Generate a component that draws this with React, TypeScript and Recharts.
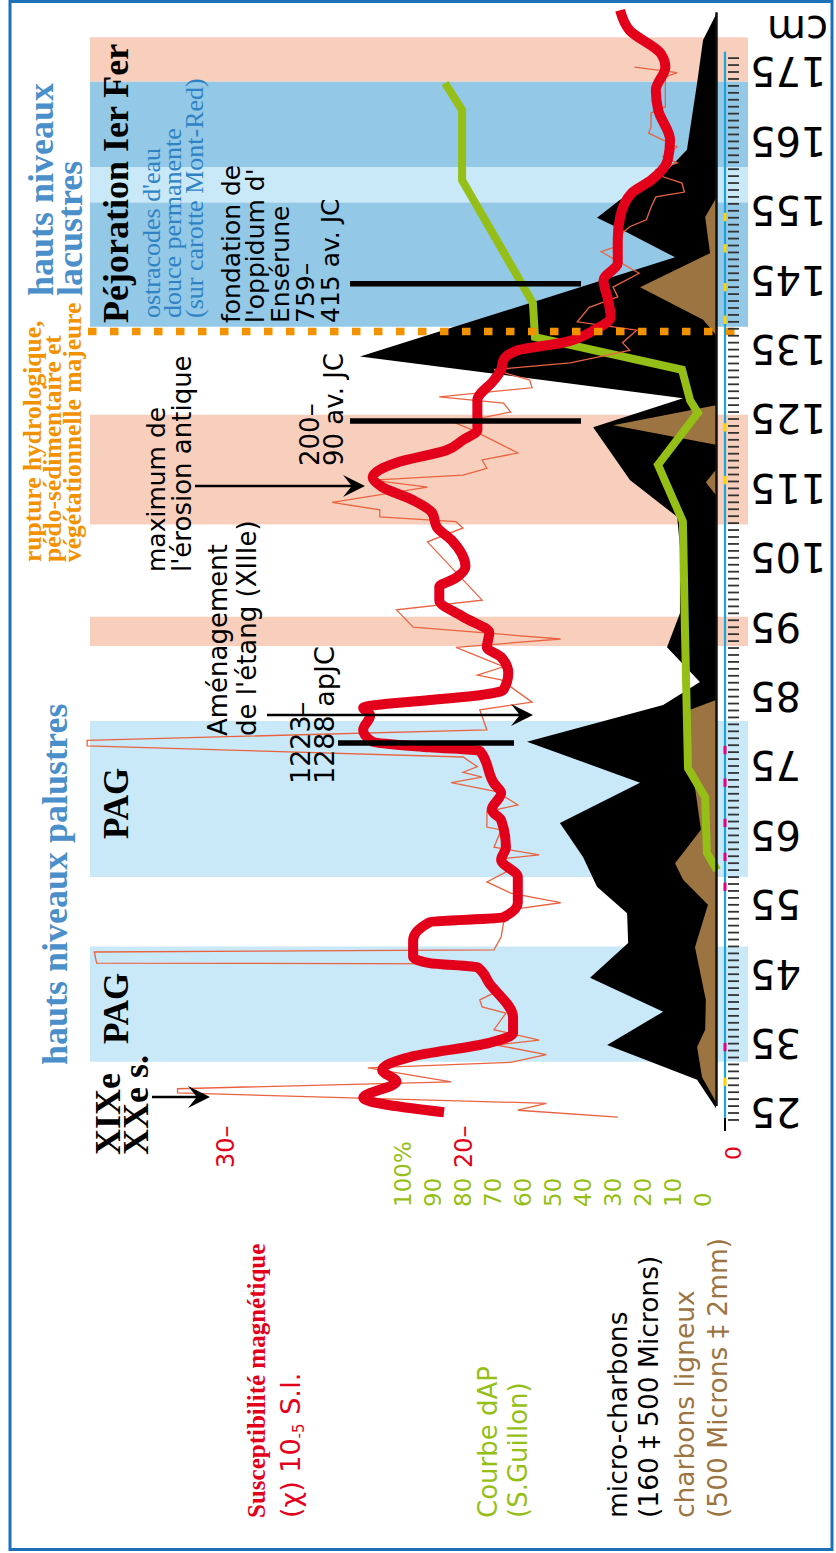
import React from 'react'
import {
  ComposedChart,
  Line,
  Area,
  XAxis,
  YAxis,
  ReferenceArea,
  ReferenceLine,
} from 'recharts'

const W = 836
const H = 1553

const SERIF = '"Liberation Serif", "Times New Roman", serif'
const SANS = '"DejaVu Sans", Verdana, sans-serif'

const RED = '#e3001b'
const RED_RAW = '#ea6340'
const GREEN = '#95bf16'
const BROWN = '#9c7441'
const TITLE_BLUE = '#4a8fca'
const OSTRA_BLUE = '#2f83c5'
const ORANGE = '#f39200'
const CYAN = '#1ba3dc'
const FRAME = '#1d71b8'

// susceptibilité magnétique, courbe lissée (profondeur cm, 10-5 S.I.)
const redSmooth = [
  { d: 183.9, v: 13.4 }, { d: 181.0, v: 13.0 }, { d: 177.7, v: 11.7 }, { d: 175.7, v: 11.5 },
  { d: 172.4, v: 11.9 }, { d: 169.5, v: 11.8 }, { d: 165.2, v: 11.3 }, { d: 162.3, v: 11.4 },
  { d: 159.4, v: 12.1 }, { d: 157.6, v: 12.9 }, { d: 154.1, v: 13.4 }, { d: 150.8, v: 13.5 },
  { d: 147.5, v: 13.5 }, { d: 145.0, v: 14.1 }, { d: 142.1, v: 13.9 }, { d: 139.7, v: 13.8 },
  { d: 137.8, v: 14.5 }, { d: 136.0, v: 15.8 }, { d: 134.9, v: 17.7 }, { d: 133.5, v: 18.3 },
  { d: 132.1, v: 18.4 }, { d: 130.6, v: 18.7 }, { d: 127.7, v: 19.4 }, { d: 125.3, v: 19.4 },
  { d: 123.4, v: 19.4 }, { d: 122.0, v: 20.0 }, { d: 120.5, v: 20.7 }, { d: 118.7, v: 22.8 },
  { d: 116.6, v: 23.8 }, { d: 115.2, v: 23.4 }, { d: 113.3, v: 22.1 }, { d: 111.5, v: 21.3 },
  { d: 109.4, v: 21.1 }, { d: 107.6, v: 20.5 }, { d: 103.7, v: 19.9 }, { d: 102.1, v: 20.3 },
  { d: 100.8, v: 21.0 }, { d: 98.9, v: 21.0 }, { d: 96.5, v: 20.0 }, { d: 94.2, v: 18.9 },
  { d: 92.1, v: 19.0 }, { d: 90.7, v: 18.4 }, { d: 88.4, v: 18.1 }, { d: 86.0, v: 18.3 },
  { d: 85.2, v: 19.3 }, { d: 84.5, v: 21.4 }, { d: 83.4, v: 24.2 }, { d: 82.3, v: 23.9 },
  { d: 80.2, v: 24.2 }, { d: 78.5, v: 23.8 }, { d: 77.7, v: 21.4 }, { d: 77.2, v: 19.3 },
  { d: 72.5, v: 18.7 }, { d: 71.1, v: 18.4 }, { d: 68.7, v: 18.8 }, { d: 67.2, v: 18.4 },
  { d: 63.3, v: 18.2 }, { d: 61.5, v: 18.4 }, { d: 59.0, v: 17.7 }, { d: 55.3, v: 17.7 },
  { d: 53.2, v: 18.3 }, { d: 52.5, v: 21.4 }, { d: 49.9, v: 22.1 }, { d: 47.5, v: 22.1 },
  { d: 46.6, v: 21.4 }, { d: 46.0, v: 19.4 }, { d: 43.7, v: 18.9 }, { d: 38.8, v: 17.9 },
  { d: 36.5, v: 17.9 }, { d: 35.1, v: 18.9 }, { d: 33.1, v: 22.2 }, { d: 31.2, v: 23.4 },
  { d: 29.5, v: 22.8 }, { d: 27.2, v: 24.2 }, { d: 25.1, v: 20.8 },
]

// susceptibilité magnétique, mesures brutes
const redRaw = [
  { d: 175.7, v: 12.8 }, { d: 174.9, v: 11.0 }, { d: 174.3, v: 11.5 }, { d: 170.0, v: 11.5 },
  { d: 169.1, v: 12.1 }, { d: 167.1, v: 12.1 }, { d: 166.2, v: 12.2 }, { d: 164.2, v: 11.0 },
  { d: 162.8, v: 11.6 }, { d: 161.9, v: 11.0 }, { d: 160.9, v: 11.9 }, { d: 159.9, v: 11.6 },
  { d: 159.0, v: 10.8 }, { d: 157.7, v: 10.7 }, { d: 157.0, v: 11.9 }, { d: 155.5, v: 12.1 },
  { d: 153.7, v: 12.3 }, { d: 152.7, v: 13.0 }, { d: 151.8, v: 13.3 }, { d: 149.8, v: 13.6 },
  { d: 149.1, v: 14.2 }, { d: 146.0, v: 12.6 }, { d: 144.0, v: 13.7 }, { d: 142.6, v: 13.5 },
  { d: 141.1, v: 14.7 }, { d: 139.0, v: 15.2 }, { d: 137.8, v: 12.7 }, { d: 136.0, v: 13.3 },
  { d: 134.9, v: 13.0 }, { d: 133.1, v: 15.5 }, { d: 132.1, v: 18.7 }, { d: 130.6, v: 17.2 },
  { d: 129.5, v: 17.1 }, { d: 128.2, v: 21.0 }, { d: 127.3, v: 18.3 }, { d: 126.0, v: 18.0 },
  { d: 124.4, v: 20.3 }, { d: 123.4, v: 19.6 }, { d: 120.1, v: 17.7 }, { d: 119.1, v: 19.2 },
  { d: 117.9, v: 19.0 }, { d: 116.9, v: 20.0 }, { d: 116.2, v: 23.8 }, { d: 115.2, v: 21.5 },
  { d: 113.0, v: 25.5 }, { d: 111.9, v: 23.5 }, { d: 110.9, v: 23.5 }, { d: 110.2, v: 20.3 },
  { d: 109.3, v: 20.0 }, { d: 107.3, v: 21.5 }, { d: 98.9, v: 19.2 }, { d: 97.5, v: 22.8 },
  { d: 95.0, v: 22.1 }, { d: 93.3, v: 15.9 }, { d: 92.1, v: 20.3 }, { d: 89.3, v: 18.3 },
  { d: 88.1, v: 19.4 }, { d: 87.4, v: 18.4 }, { d: 84.2, v: 17.1 }, { d: 83.1, v: 19.3 },
  { d: 80.2, v: 19.0 }, { d: 78.7, v: 35.8 }, { d: 77.9, v: 35.8 }, { d: 76.3, v: 20.0 },
  { d: 74.9, v: 19.4 }, { d: 74.1, v: 20.0 }, { d: 73.4, v: 19.2 }, { d: 72.6, v: 20.5 },
  { d: 71.3, v: 18.6 }, { d: 69.4, v: 17.7 }, { d: 68.4, v: 19.0 }, { d: 66.2, v: 19.0 },
  { d: 65.8, v: 18.4 }, { d: 63.3, v: 18.7 }, { d: 62.2, v: 16.8 }, { d: 61.7, v: 18.2 },
  { d: 59.7, v: 18.2 }, { d: 58.3, v: 19.0 }, { d: 56.7, v: 18.0 }, { d: 55.3, v: 15.9 },
  { d: 54.5, v: 17.6 }, { d: 52.4, v: 18.3 }, { d: 50.4, v: 18.4 }, { d: 48.5, v: 18.7 },
  { d: 48.2, v: 35.5 }, { d: 46.6, v: 35.4 }, { d: 46.5, v: 19.4 }, { d: 45.2, v: 19.0 },
  { d: 42.3, v: 18.7 }, { d: 41.3, v: 19.3 }, { d: 40.3, v: 19.2 }, { d: 39.4, v: 18.2 },
  { d: 37.0, v: 18.7 }, { d: 35.5, v: 16.8 }, { d: 34.8, v: 18.6 }, { d: 33.4, v: 16.5 },
  { d: 32.3, v: 18.0 }, { d: 31.5, v: 24.0 }, { d: 29.5, v: 20.5 }, { d: 28.5, v: 32.0 },
  { d: 27.9, v: 32.0 }, { d: 26.4, v: 16.5 }, { d: 25.4, v: 17.7 }, { d: 24.4, v: 13.5 },
]

// courbe d'AP (%)
const apCurve = [
  { d: 173.4, v: 91 }, { d: 169.5, v: 85.3 }, { d: 159.4, v: 85.3 }, { d: 141.7, v: 61.7 },
  { d: 136.8, v: 61 }, { d: 132.1, v: 12 }, { d: 127.7, v: 9.3 }, { d: 125.9, v: 6.7 },
  { d: 118.4, v: 20 }, { d: 110.2, v: 11.7 }, { d: 94.3, v: 11 }, { d: 85, v: null },
  { d: 74.7, v: 10 }, { d: 70.5, v: 4.3 }, { d: 62.5, v: 3.7 }, { d: 60, v: 0.3 },
]

// micro-charbons (160 à 500 microns)
const microCharbons = [
  { d: 183.3, v: 0 }, { d: 179.6, v: 3.7 }, { d: 173.4, v: 5.4 }, { d: 163.8, v: 8.3 },
  { d: 159.4, v: 16.6 }, { d: 156.6, v: 27.4 }, { d: 154.0, v: 34.0 }, { d: 152.2, v: 26.6 },
  { d: 148.3, v: 11.7 }, { d: 134.0, v: 101.7 }, { d: 128.0, v: 9.4 }, { d: 123.8, v: 35.1 },
  { d: 116.2, v: 24.6 }, { d: 110.9, v: 11.1 }, { d: 106.6, v: 10.3 }, { d: 97.0, v: 10.3 },
  { d: 92.1, v: 14.0 }, { d: 87.1, v: 4.6 }, { d: 83.8, v: 15.1 }, { d: 78.5, v: 54.0 },
  { d: 72.6, v: 21.7 }, { d: 66.8, v: 44.6 }, { d: 61.9, v: 38.0 }, { d: 57.6, v: 34.0 },
  { d: 53.8, v: 25.4 }, { d: 49.5, v: 25.1 }, { d: 44.5, v: 36.0 }, { d: 39.6, v: 15.1 },
  { d: 34.8, v: 31.1 }, { d: 29.8, v: 5.4 }, { d: 25.7, v: 0 },
]

// charbons ligneux (500 microns à 2 mm)
const charbonsLigneux = [
  { d: 156.8, v: 0 }, { d: 154.1, v: 3.1 }, { d: 148.9, v: 1.7 }, { d: 144.0, v: 21.7 },
  { d: 139.3, v: 3.7 }, { d: 137.1, v: 0 }, { d: 127.0, v: 0 }, { d: 124.1, v: 29.4 },
  { d: 121.3, v: 0 }, { d: 117.7, v: 0 }, { d: 115.9, v: 2.9 }, { d: 114.0, v: 0 },
  { d: 84.5, v: 0 }, { d: 83.1, v: 7.4 }, { d: 76.9, v: 7.4 }, { d: 65.8, v: 4.3 },
  { d: 61.0, v: 11.7 }, { d: 58.6, v: 9.4 }, { d: 55.0, v: 2.3 }, { d: 48.9, v: 6.0 },
  { d: 41.3, v: 2.9 }, { d: 37.0, v: 3.1 }, { d: 34.5, v: 5.4 }, { d: 30.2, v: 4.0 },
  { d: 26.6, v: 0 },
]

// bandes (profondeurs)
const bands = [
  { from: 173.6, to: 180.0, fill: '#f8cfbc' },
  { from: 161.3, to: 173.6, fill: '#93c8e6' },
  { from: 156.2, to: 161.3, fill: '#c9e8f8' },
  { from: 138.3, to: 156.2, fill: '#93c8e6' },
  { from: 109.8, to: 125.6, fill: '#f8cfbc' },
  { from: 92.3, to: 96.5, fill: '#f8cfbc' },
  { from: 59.0, to: 81.5, fill: '#c9e8f8' },
  { from: 32.4, to: 49.0, fill: '#c9e8f8' },
]

const ruptureDepth = 137.6
const dateBarDepths = [144.5, 124.7, 78.3]
const dateBarSpans = [[350, 581], [350, 581], [338, 514]]

const yellowSamples = [154.1, 149.6, 144.0, 139.3, 123.8, 116.2, 29.5]
const pinkSamples = [77.3, 72.6, 66.8, 61.9, 57.6, 34.5]

const depthLabels = [25, 35, 45, 55, 65, 75, 85, 95, 105, 115, 125, 135, 145, 155, 165, 175]
const rulerTicks = Array.from({ length: 154 }, (_, i) => 24 + i)
const susTicks = [20, 30]
const apTicks = [0, 10, 20, 30, 40, 50, 60, 70, 80, 90, 100]

const RulerTick = (props: any) => {
  const { y, payload } = props
  const v = payload.value
  return (
    <g>
      <line x1={728} x2={739} y1={y} y2={y} stroke="#333" strokeWidth={1.8} />
      {depthLabels.includes(v) && (
        <text
          transform={`translate(750,${y - 14.6}) rotate(180)`}
          textAnchor="end"
          fontSize={40}
          fontFamily={SANS}
          fill="#000"
        >
          {v}
        </text>
      )}
    </g>
  )
}

const SusTick = (props: any) => {
  const { x, payload } = props
  return (
    <text transform={`translate(${x + 9},1168) rotate(-90)`} fontSize={24} fontFamily={SANS} fill={RED}>
      {`${payload.value}–`}
    </text>
  )
}

const ApTick = (props: any) => {
  const { x, payload } = props
  return (
    <text transform={`translate(${x - 7},1207) rotate(-90)`} fontSize={23} fontFamily={SANS} fill={GREEN}>
      {payload.value === 100 ? '100%' : payload.value}
    </text>
  )
}

function VText({ x, y, size, family = SANS, weight = 'normal', color = '#000', children }: any) {
  return (
    <text
      transform={`translate(${x},${y}) rotate(-90)`}
      fontSize={size}
      fontFamily={family}
      fontWeight={weight}
      fill={color}
    >
      {children}
    </text>
  )
}

function Arrow({ x1, x2, y }: any) {
  const L = 22
  const hw = 11
  return (
    <g>
      <line x1={x1} y1={y} x2={x2 - 10} y2={y} stroke="#000" strokeWidth={2.5} />
      <path d={`M${x2},${y} L${x2 - L},${y - hw} L${x2 - L * 0.6},${y} L${x2 - L},${y + hw} Z`} fill="#000" />
    </g>
  )
}

export default function App() {
  return (
    <div style={{ position: 'absolute', left: 0, top: 0, width: W, height: H, background: '#fff' }}>
      <ComposedChart
        layout="vertical"
        width={W}
        height={H}
        margin={{ top: 2.6, right: 15, bottom: 389.4, left: 11 }}
      >
        <YAxis
          yAxisId="d"
          type="number"
          dataKey="d"
          domain={[18, 185]}
          reversed
          orientation="right"
          width={1}
          ticks={rulerTicks}
          interval={0}
          axisLine={false}
          tickLine={false}
          tick={<RulerTick />}
        />
        <XAxis
          xAxisId="sus"
          type="number"
          domain={[5, 39]}
          reversed
          height={1}
          ticks={susTicks}
          interval={0}
          axisLine={false}
          tickLine={false}
          tick={<SusTick />}
        />
        <XAxis
          xAxisId="ap"
          type="number"
          domain={[-34, 235.667]}
          reversed
          height={1}
          ticks={apTicks}
          interval={0}
          axisLine={false}
          tickLine={false}
          tick={<ApTick />}
        />
        <XAxis xAxisId="ch" type="number" domain={[-29.714, 201.429]} reversed hide />
        <XAxis xAxisId="px" type="number" domain={[11, 820]} allowDataOverflow hide />

        {bands.map((b, i) => (
          <ReferenceArea
            key={i}
            xAxisId="px"
            yAxisId="d"
            x1={90}
            x2={748}
            y1={b.from}
            y2={b.to}
            fill={b.fill}
            fillOpacity={1}
            stroke="none"
            ifOverflow="visible"
          />
        ))}

        <Area
          xAxisId="ch"
          yAxisId="d"
          data={microCharbons}
          dataKey="v"
          type="linear"
          baseValue={0}
          fill="#000"
          fillOpacity={1}
          stroke="none"
          isAnimationActive={false}
        />
        <Area
          xAxisId="ch"
          yAxisId="d"
          data={charbonsLigneux}
          dataKey="v"
          type="linear"
          baseValue={0}
          fill={BROWN}
          fillOpacity={1}
          stroke="none"
          isAnimationActive={false}
        />
        <Line
          xAxisId="ap"
          yAxisId="d"
          data={apCurve}
          dataKey="v"
          type="linear"
          stroke={GREEN}
          strokeWidth={8}
          dot={false}
          isAnimationActive={false}
        />
        <Line
          xAxisId="sus"
          yAxisId="d"
          data={redRaw}
          dataKey="v"
          type="linear"
          stroke={RED_RAW}
          strokeWidth={1.3}
          dot={false}
          isAnimationActive={false}
        />
        <Line
          xAxisId="sus"
          yAxisId="d"
          data={redSmooth}
          dataKey="v"
          type="monotone"
          stroke={RED}
          strokeWidth={10}
          dot={false}
          isAnimationActive={false}
        />

        <ReferenceLine
          xAxisId="px"
          yAxisId="d"
          segment={[{ x: 716.5, y: 26 }, { x: 716.5, y: 183.6 }]}
          stroke="#111"
          strokeWidth={2.5}
          ifOverflow="visible"
        />
        <ReferenceLine
          xAxisId="px"
          yAxisId="d"
          segment={[{ x: 725, y: 24.3 }, { x: 725, y: 177.9 }]}
          stroke={CYAN}
          strokeWidth={2.2}
          ifOverflow="visible"
        />
        <ReferenceLine
          xAxisId="px"
          yAxisId="d"
          segment={[{ x: 725, y: 22.4 }, { x: 725, y: 24.3 }]}
          stroke="#000"
          strokeWidth={2}
          ifOverflow="visible"
        />
        {yellowSamples.map((d, i) => (
          <ReferenceLine
            key={`y${i}`}
            xAxisId="px"
            yAxisId="d"
            segment={[{ x: 725, y: d - 0.6 }, { x: 725, y: d + 0.6 }]}
            stroke="#ffd500"
            strokeWidth={3}
            ifOverflow="visible"
          />
        ))}
        {pinkSamples.map((d, i) => (
          <ReferenceLine
            key={`p${i}`}
            xAxisId="px"
            yAxisId="d"
            segment={[{ x: 725, y: d - 0.6 }, { x: 725, y: d + 0.6 }]}
            stroke="#e6007e"
            strokeWidth={3}
            ifOverflow="visible"
          />
        ))}
        <ReferenceLine
          xAxisId="px"
          yAxisId="d"
          segment={[{ x: 88, y: ruptureDepth }, { x: 748, y: ruptureDepth }]}
          stroke={ORANGE}
          strokeWidth={7.5}
          strokeDasharray="8.5 13.5"
          ifOverflow="visible"
        />
        {dateBarDepths.map((d, i) => (
          <ReferenceLine
            key={`b${i}`}
            xAxisId="px"
            yAxisId="d"
            segment={[{ x: dateBarSpans[i][0], y: d }, { x: dateBarSpans[i][1], y: d }]}
            stroke="#000"
            strokeWidth={5.5}
            ifOverflow="visible"
          />
        ))}
      </ComposedChart>

      <svg
        width={W}
        height={H}
        style={{ position: 'absolute', left: 0, top: 0, pointerEvents: 'none' }}
      >
        <rect x={10} y={1.5} width={822} height={1548} fill="none" stroke={FRAME} strokeWidth={3} />

        <VText x={53} y={296} size={36} family={SERIF} weight="bold" color={TITLE_BLUE}>hauts niveaux</VText>
        <VText x={82} y={296} size={36} family={SERIF} weight="bold" color={TITLE_BLUE}>lacustres</VText>

        <VText x={41} y={562} size={25.5} family={SERIF} weight="bold" color={ORANGE}>rupture hydrologique,</VText>
        <VText x={61} y={562} size={25.5} family={SERIF} weight="bold" color={ORANGE}>pédo-sédimentaire et</VText>
        <VText x={81} y={562} size={25.5} family={SERIF} weight="bold" color={ORANGE}>végétationnelle majeure</VText>

        <VText x={128} y={323} size={36} family={SERIF} weight="bold">Péjoration Ier Fer</VText>
        <VText x={160} y={318} size={26} family={SERIF} color={OSTRA_BLUE}>ostracodes d'eau</VText>
        <VText x={181} y={318} size={26} family={SERIF} color={OSTRA_BLUE}>douce permanente</VText>
        <VText x={203} y={318} size={26} family={SERIF} color={OSTRA_BLUE}>(sur carotte Mont-Red)</VText>

        <VText x={240} y={323} size={25}>fondation de</VText>
        <VText x={264} y={323} size={25}>l'oppidum d'</VText>
        <VText x={289} y={323} size={25}>Ensérune</VText>
        <VText x={314} y={323} size={25}>759–</VText>
        <VText x={339} y={323} size={25}>415 av. JC</VText>

        <VText x={319} y={466} size={26}>200–</VText>
        <VText x={343} y={466} size={26}>90 av. JC</VText>

        <VText x={165} y={572} size={25}>maximum de</VText>
        <VText x={191} y={572} size={26}>l'érosion antique</VText>
        <Arrow x1={195} x2={365} y={486} />

        <VText x={227} y={736} size={26}>Aménagement</VText>
        <VText x={256} y={736} size={26}>de l'étang (XIIIe)</VText>
        <VText x={310} y={784} size={27}>1223–</VText>
        <VText x={334} y={784} size={27}>1288 apJC</VText>
        <Arrow x1={267} x2={533} y={715} />

        <VText x={67} y={1065} size={36} family={SERIF} weight="bold" color={TITLE_BLUE}>hauts niveaux palustres</VText>
        <VText x={128} y={839} size={35} family={SERIF} weight="bold">PAG</VText>
        <VText x={128} y={1044} size={35} family={SERIF} weight="bold">PAG</VText>

        <VText x={120} y={1155} size={36} family={SERIF} weight="bold">XIXe</VText>
        <VText x={148} y={1155} size={36} family={SERIF} weight="bold">XXe s.</VText>
        <Arrow x1={152} x2={210} y={1097} />

        <VText x={741} y={1160} size={22} color={RED}>0</VText>

        <VText x={265} y={1518} size={25} family={SERIF} weight="bold" color={RED}>Susceptibilité magnétique</VText>
        <VText x={300} y={1518} size={27} color={RED}>
          (χ) 10<tspan fontSize={15} dy={4}>-5</tspan><tspan dy={-4}> S.I.</tspan>
        </VText>

        <VText x={497} y={1518} size={26} color={GREEN}>Courbe dAP</VText>
        <VText x={527} y={1518} size={26} color={GREEN}>(S.Guillon)</VText>

        <VText x={627} y={1518} size={26.5}>micro-charbons</VText>
        <VText x={658} y={1518} size={26.5}>(160 ‡ 500 Microns)</VText>
        <VText x={694} y={1518} size={26.5} color={BROWN}>charbons ligneux</VText>
        <VText x={727} y={1518} size={26.5} color={BROWN}>(500 Microns ‡ 2mm)</VText>

        <text transform="translate(767,16) rotate(180)" textAnchor="end" fontSize={40} fontFamily={SANS} fill="#000">
          cm
        </text>
      </svg>
    </div>
  )
}
